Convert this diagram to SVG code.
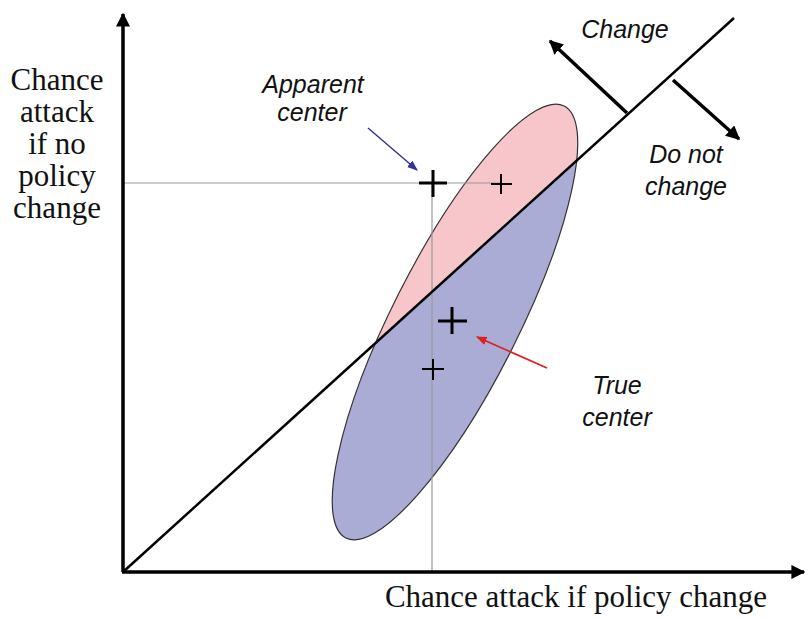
<svg xmlns="http://www.w3.org/2000/svg" width="808" height="618" viewBox="0 0 808 618">
<style>
.serif{font-family:"Liberation Serif","Times New Roman",serif;font-size:31px;fill:#111;text-anchor:middle}
.lbl{font-family:"Liberation Sans",Arial,sans-serif;font-style:italic;font-size:25px;fill:#111;text-anchor:middle}
.axis{stroke:#000;stroke-width:3.5;fill:none}
.guide{stroke:#999;stroke-width:1.2;fill:none}
.cross{stroke:#000;fill:none}
.arr{stroke:#000;stroke-width:3.5;fill:none}
</style>
<defs>
<marker id="ah" viewBox="0 0 10 10" refX="9" refY="5" markerWidth="4" markerHeight="4" orient="auto" markerUnits="strokeWidth">
<path d="M0,0 L10,5 L0,10 z" fill="#000"/>
</marker>
<marker id="ahb" viewBox="0 0 10 10" refX="9" refY="5" markerWidth="7" markerHeight="7" orient="auto" markerUnits="strokeWidth">
<path d="M0,1 L10,5 L0,9 z" fill="#333399"/>
</marker>
<marker id="ahr" viewBox="0 0 10 10" refX="9" refY="5" markerWidth="6" markerHeight="6" orient="auto" markerUnits="strokeWidth">
<path d="M0,1 L10,5 L0,9 z" fill="#e02020"/>
</marker>
<clipPath id="above"><polygon points="0,684 808,-49 0,-49"/></clipPath>
<clipPath id="below"><polygon points="0,684 808,-49 808,700 0,700"/></clipPath>
<ellipse id="ell" cx="455" cy="322" rx="242" ry="63" transform="rotate(-63.2 455 322)"/>
</defs>
<rect width="808" height="618" fill="#fff"/>

<g id="ellipse">
<g clip-path="url(#above)"><use href="#ell" fill="#f6c6ca"/></g>
<g clip-path="url(#below)"><use href="#ell" fill="#aaacd6"/></g>
<use href="#ell" fill="none" stroke="#333" stroke-width="1.2"/>
</g>

<g id="guides">
<line class="guide" x1="123" y1="183" x2="501" y2="183"/>
<line class="guide" x1="432" y1="183" x2="432" y2="572"/>
</g>

<g id="axes">
<line class="axis" x1="123" y1="572" x2="123" y2="14" marker-end="url(#ah)"/>
<line class="axis" x1="122" y1="572" x2="804" y2="572" marker-end="url(#ah)"/>
</g>

<g id="connectors">
<line x1="123" y1="572" x2="734" y2="18" stroke="#000" stroke-width="2.5"/>
<line class="arr" x1="627" y1="113" x2="550" y2="41" marker-end="url(#ah)"/>
<line class="arr" x1="673" y1="80" x2="739" y2="139" marker-end="url(#ah)"/>
<line x1="368" y1="128" x2="417" y2="170" stroke="#333399" stroke-width="1.5" marker-end="url(#ahb)"/>
<line x1="547" y1="368" x2="477" y2="337" stroke="#e02020" stroke-width="1.8" marker-end="url(#ahr)"/>
</g>

<g id="crosses">
<path class="cross" stroke-width="3" d="M419,183 H447 M433,170 V197"/>
<path class="cross" stroke-width="2" d="M491,184 H512 M501,174 V194"/>
<path class="cross" stroke-width="3" d="M438,321 H467 M452,307 V334"/>
<path class="cross" stroke-width="2" d="M422,369 H444 M433,359 V380"/>
</g>

<g id="labels">
<text class="serif" x="57"><tspan x="57" y="90">Chance</tspan><tspan x="57" y="122">attack</tspan><tspan x="57" y="154">if no</tspan><tspan x="57" y="186">policy</tspan><tspan x="57" y="218">change</tspan></text>
<text class="serif" x="576" y="607">Chance attack if policy change</text>
<text class="lbl"><tspan x="313" y="93">Apparent</tspan><tspan x="312" y="121">center</tspan></text>
<text class="lbl"><tspan x="617" y="394">True</tspan><tspan x="617" y="426">center</tspan></text>
<text class="lbl" x="625" y="38">Change</text>
<text class="lbl"><tspan x="686" y="163">Do not</tspan><tspan x="686" y="195">change</tspan></text>
</g>
</svg>
